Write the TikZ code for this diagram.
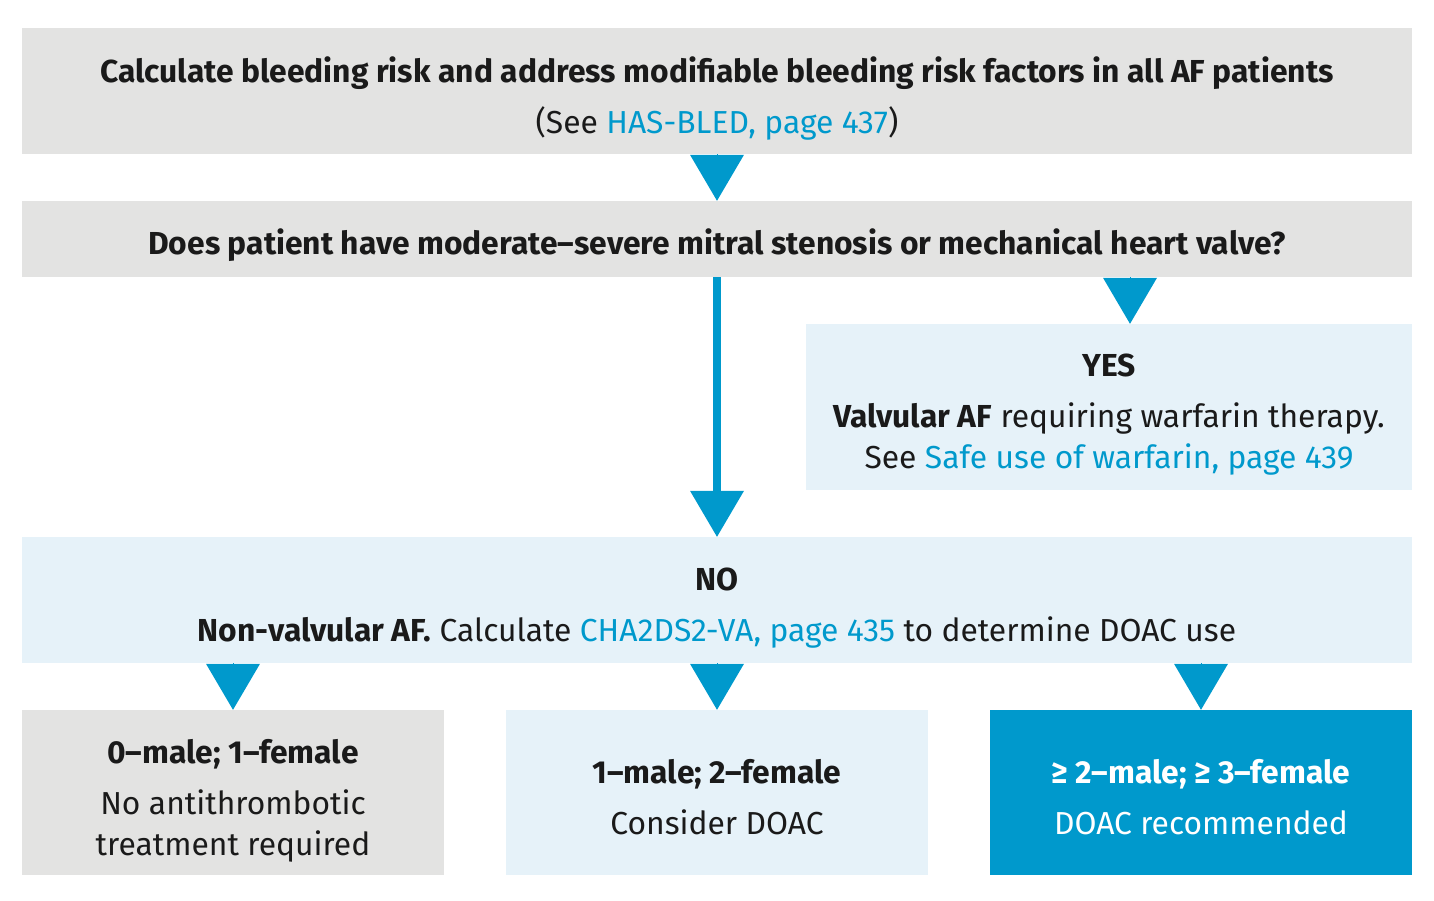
\documentclass[tikz,border=0pt]{standalone}
\usepackage{fontspec}
\setmainfont{Fira Sans}
\usetikzlibrary{arrows.meta, positioning}
\definecolor{LinkBlue}{HTML}{0099CC}
\definecolor{PanelGrey}{HTML}{E3E3E2}
\definecolor{PanelBlue}{HTML}{E6F2F9}
\definecolor{InkBlack}{HTML}{1A1A1A}
\newcommand{\pagelink}[1]{\textcolor{LinkBlue}{#1}}
\tikzset{
  greybox/.style={rectangle, fill=PanelGrey, inner sep=0pt, minimum width=1390pt},
  paleblue/.style={rectangle, fill=PanelBlue, inner sep=0pt},
  outcomebox/.style={rectangle, inner sep=0pt, minimum width=422pt, minimum height=165pt},
  boxtext/.style={inner sep=0pt, text=InkBlack, align=center, font=\fontsize{31.8}{41}\selectfont},
  arrow/.style={-{Triangle[width=54pt, length=46pt, line width=0pt]}, LinkBlue, line width=0.1pt},
  longarrow/.style={-{Triangle[width=54pt, length=46pt, line width=0pt]}, LinkBlue, line width=8pt}
}
\begin{document}
\begin{tikzpicture}[x=1pt, y=-1pt]
  \useasboundingbox (0,0) rectangle (1434,900);

  % boxes
  \node[greybox, minimum height=126pt] (bleed) at (717,91) {};
  \node[greybox, minimum height=76pt] (valve) at (717,239) {};
  \node[paleblue, minimum width=606pt, minimum height=166pt] (yes) at (1109,407) {};
  \node[paleblue, minimum width=1390pt, minimum height=126pt] (novalve) at (717,600) {};
  \node[outcomebox, fill=PanelGrey] (low) at (233,792.5) {};
  \node[outcomebox, fill=PanelBlue] (mid) at (717,792.5) {};
  \node[outcomebox, fill=LinkBlue] (high) at (1201,792.5) {};

  % texts
  \node[boxtext] (bleedtxt) at ([yshift=-7pt]bleed.center) {\textbf{Calculate bleeding risk and address modifiable bleeding risk factors in all AF patients}\\[10pt] (See \pagelink{HAS-BLED, page 437})};
  \node[boxtext] (valvetxt) at ([yshift=-6pt]valve.center) {\textbf{Does patient have moderate–severe mitral stenosis or mechanical heart valve?}};
  \node[boxtext] (yestxt) at ([yshift=-8pt]yes.center) {\textbf{YES}\\[10pt] \textbf{Valvular AF} requiring warfarin therapy.\\ See \pagelink{Safe use of warfarin, page 439}};
  \node[boxtext] (novalvetxt) at ([yshift=-8pt]novalve.center) {\textbf{NO}\\[10pt] \textbf{Non-valvular AF.} Calculate \pagelink{CHA2DS2-VA, page 435} to determine DOAC use};
  \node[boxtext] (lowtxt) at ([yshift=-8pt]low.center) {\textbf{0–male; 1–female}\\[10pt] No antithrombotic\\ treatment required};
  \node[boxtext] (midtxt) at ([yshift=-5pt]mid.center) {\textbf{1–male; 2–female}\\[10pt] Consider DOAC};
  \node[boxtext, text=white] (hightxt) at ([yshift=-5pt]high.center) {\textbf{≥ 2–male; ≥ 3–female}\\[10pt] DOAC recommended};

  \coordinate (yesin) at ([xshift=21pt]yes.north);

  % arrows
  \draw[arrow] (bleed.south) -- (valve.north);
  \draw[longarrow] (valve.south) -- (novalve.north);
  \draw[arrow] (yesin |- valve.south) -- (yesin);
  \draw[arrow] (low.north |- novalve.south) -- (low.north);
  \draw[arrow] (mid.north |- novalve.south) -- (mid.north);
  \draw[arrow] (high.north |- novalve.south) -- (high.north);
\end{tikzpicture}
\end{document}
